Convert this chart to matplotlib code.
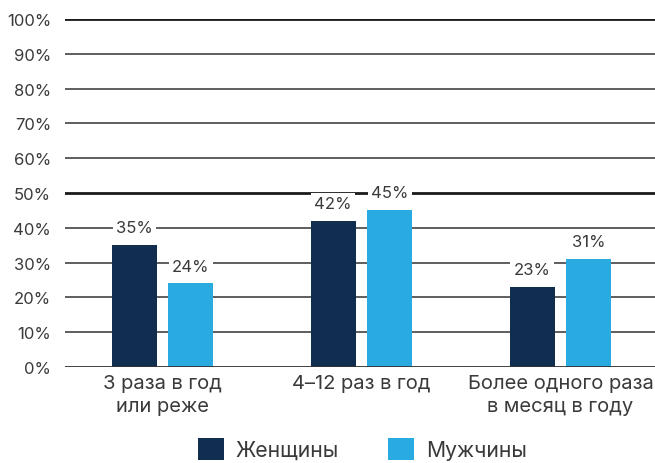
import matplotlib

matplotlib.use("Agg")
import matplotlib.pyplot as plt
import numpy as np

plt.rcParams["font.family"] = ["Inter", "DejaVu Sans"]

categories = ["3 раза в год\nили реже", "4–12 раз в год", "Более одного раза\nв месяц в году"]
women = [35, 42, 23]
men = [24, 45, 31]
series_names = ["Женщины", "Мужчины"]
yticks = list(range(0, 101, 10))

DARK = "#112e51"
LIGHT = "#29abe2"
TEXT = "#3a3a3a"

fig = plt.figure(figsize=(6.55, 4.64), dpi=100)
ax = fig.add_axes([65 / 655, 1 - 368 / 464, 590 / 655, 348 / 464])

x = np.arange(len(categories))
off, w = 0.142, 0.226

# gridlines drawn by hand so 50% / 100% can be heavier
for t in yticks[1:]:
    lw = 2.0 if t in (50, 100) else 1.1
    col = "#1a1a1a" if t in (50, 100) else "#333333"
    ax.axhline(t, color=col, lw=lw, zorder=0)
ax.axhline(0, color="#333333", lw=1.3, zorder=3)

b1 = ax.bar(x - off, women, w, color=DARK, zorder=2, label=series_names[0])
b2 = ax.bar(x + off, men, w, color=LIGHT, zorder=2, label=series_names[1])

for bars, vals in ((b1, women), (b2, men)):
    for b, v in zip(bars, vals):
        ax.text(b.get_x() + b.get_width() / 2, v + 5, f"{v}%", ha="center", va="center",
                fontsize=12, color=TEXT, zorder=4,
                bbox=dict(boxstyle="square,pad=0.2", fc="white", ec="none"))

ax.set_xlim(-0.49, 2.475)
ax.set_ylim(0, 100)
ax.set_yticks(yticks)
ax.set_yticklabels([f"{t}%" for t in yticks], fontsize=12, color=TEXT)
ax.set_xticks(x)
ax.set_xticklabels(categories, fontsize=14.5, color=TEXT, linespacing=1.35)
ax.tick_params(axis="both", length=0)
ax.tick_params(axis="y", pad=10)
ax.tick_params(axis="x", pad=5)
for s in ax.spines.values():
    s.set_visible(False)

fig.legend(handles=[b1, b2], loc="center", bbox_to_anchor=(0.553, 0.03), ncol=2,
           frameon=False, handlelength=1.24, handleheight=1.24, borderpad=0,
           columnspacing=2.3, handletextpad=0.57, labelcolor=TEXT,
           prop={"size": 15.2})

fig.savefig("out.png", dpi=100)
